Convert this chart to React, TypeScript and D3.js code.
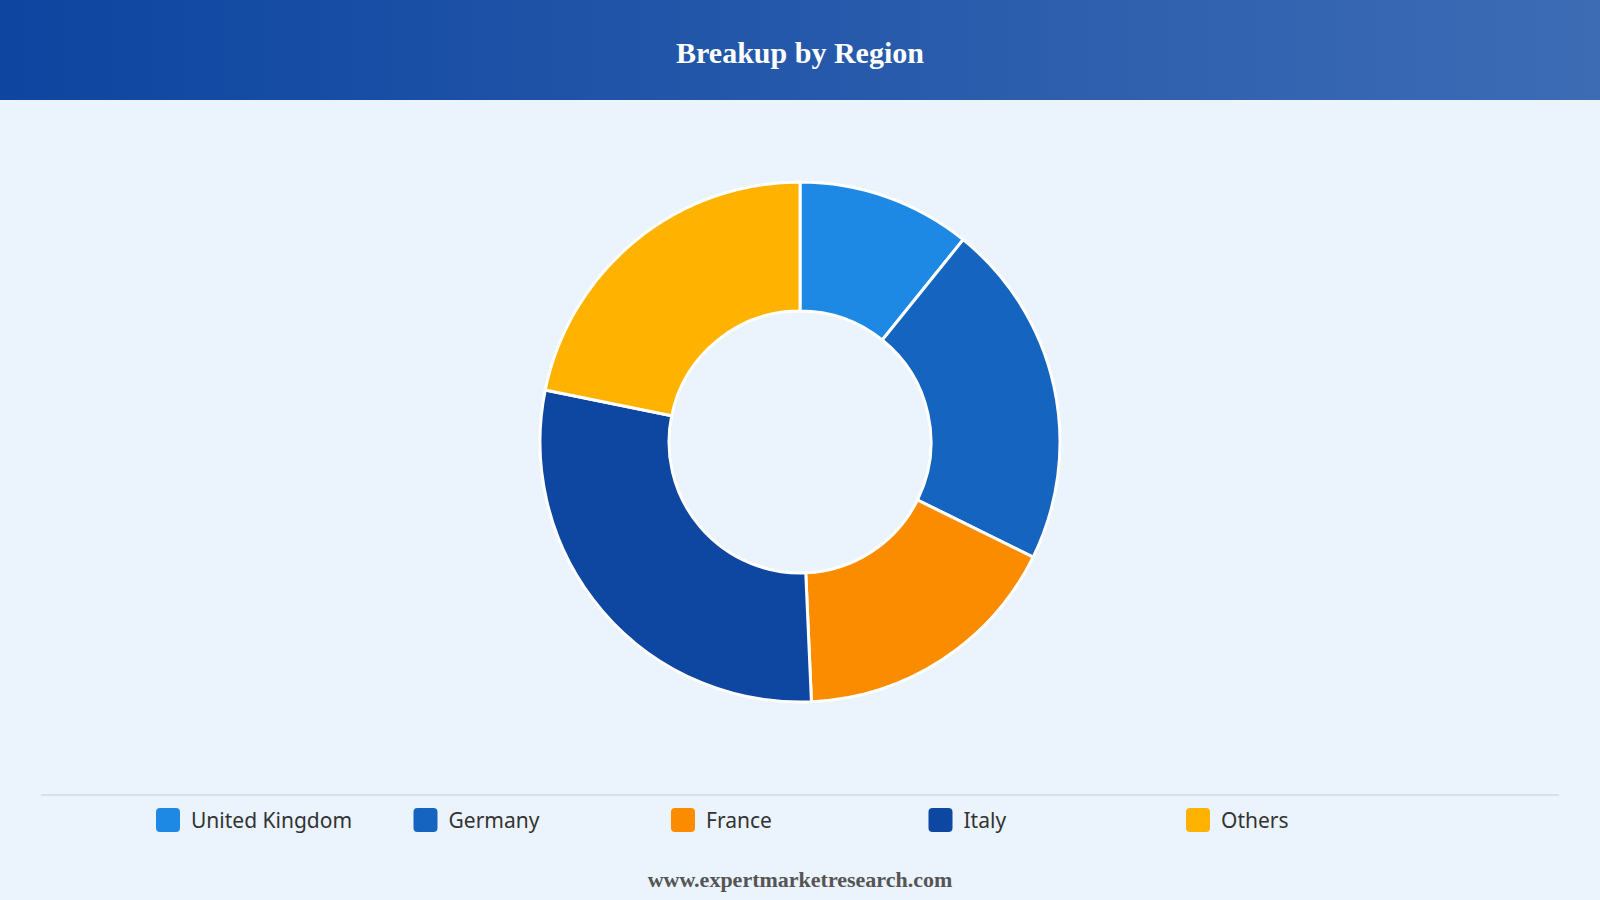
import React from 'react';
import * as d3 from 'd3';

const regions = ['United Kingdom', 'Germany', 'France', 'Italy', 'Others'];
const shares = [10.8, 21.5, 17.0, 28.9, 21.8];
const colors = ['#1e88e5', '#1565c0', '#fb8c00', '#0d47a1', '#ffb300'];

const W = 1600;
const H = 900;

export default function App() {
  const cx = 800;
  const cy = 442;
  const outer = 260;
  const inner = 131;

  const pie = d3.pie<number>().sort(null).value(d => d)(shares);
  const arc = d3.arc<d3.PieArcDatum<number>>().innerRadius(inner).outerRadius(outer);

  const legendX = d3.scaleLinear().domain([0, regions.length - 1]).range([156, 1186]);

  return (
    <svg width={W} height={H} style={{ position: 'absolute', left: 0, top: 0 }}>
      <defs>
        <linearGradient id="hdr" x1="0" x2="1" y1="0" y2="0">
          <stop offset="0%" stopColor="#0d45a0" />
          <stop offset="100%" stopColor="#3d6cb5" />
        </linearGradient>
      </defs>
      <rect width={W} height={H} fill="#ebf3fc" />
      <rect width={W} height={100} fill="url(#hdr)" />
      <text x={W / 2} y={56} textAnchor="middle" dominantBaseline="middle"
        fontFamily="'Liberation Serif', serif" fontWeight="bold" fontSize={30} fill="#fff">
        Breakup by Region
      </text>

      <g transform={`translate(${cx},${cy})`}>
        {pie.map((p, i) => (
          <path key={regions[i]} d={arc(p) || ''} fill={colors[i]} stroke="#fff" strokeWidth={3} />
        ))}
      </g>

      <line x1={41} x2={1559} y1={795} y2={795} stroke="#d3d8de" strokeWidth={1.5} />
      {regions.map((r, i) => (
        <g key={r} transform={`translate(${legendX(i)},808)`}>
          <rect width={24} height={24} rx={4} fill={colors[i]} />
          <text x={35} y={14} dominantBaseline="middle" fontFamily="'Noto Sans', sans-serif"
            fontSize={21} fill="#333">{r}</text>
        </g>
      ))}

      <text x={W / 2} y={882} textAnchor="middle" dominantBaseline="middle"
        fontFamily="'Liberation Serif', serif" fontWeight="bold" fontSize={22} fill="#555">
        www.expertmarketresearch.com
      </text>
    </svg>
  );
}
